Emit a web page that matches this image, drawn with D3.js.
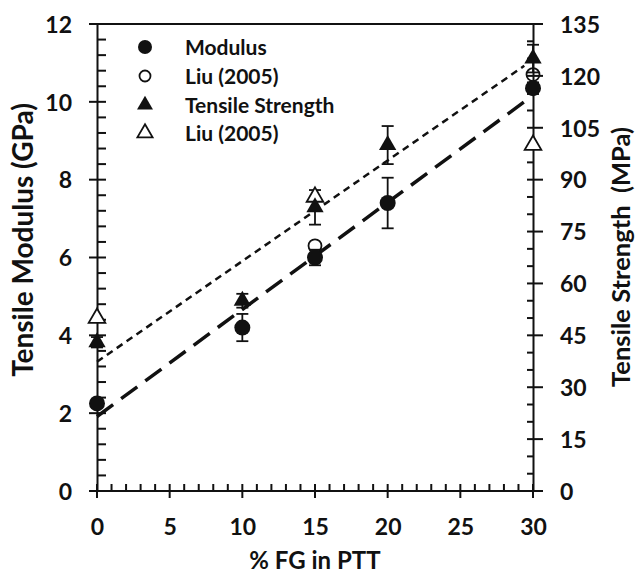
<!DOCTYPE html>
<html><head><meta charset="utf-8">
<script src="https://cdn.jsdelivr.net/npm/d3@7"></script>
<style>
html,body{margin:0;padding:0;background:#fff;}
text{font-family:Lato,"Open Sans",sans-serif;font-weight:700;fill:#111;}
</style></head>
<body>
<svg id="chart" width="637" height="575"></svg>
<script>
// ---- data ----
const fgPct = [0, 10, 15, 20, 30];
const modulus = [2.25, 4.2, 6.0, 7.4, 10.35];
const modulusErr = [0.1, 0.35, 0.2, 0.65, 0.15];
const liuModX = [15, 30];
const liuMod = [6.3, 10.7];
const strength = [43, 55, 82, 100, 125];
const strengthErr = [1.5, 2, 5, 5.5, 4];
const liuStrX = [0, 15, 30];
const liuStr = [50, 85, 100];
const xTicks = [0, 5, 10, 15, 20, 25, 30];
const yLeftTicks = [0, 2, 4, 6, 8, 10, 12];
const yRightTicks = [0, 15, 30, 45, 60, 75, 90, 105, 120, 135];
const legendLabels = ["Modulus", "Liu (2005)", "Tensile Strength", "Liu (2005)"];

const svg = d3.select("#chart");
const x = d3.scaleLinear().domain([0, 30]).range([97, 533]);
const yL = d3.scaleLinear().domain([0, 12]).range([491, 24]);
const yR = d3.scaleLinear().domain([0, 135]).range([491, 24]);

const axisW = 2;
const tickFont = "23px";
// top border
svg.append("line").attr("x1", 89).attr("x2", 543).attr("y1", yL(12)).attr("y2", yL(12))
  .attr("stroke", "#111").attr("stroke-width", axisW);

// left axis
const gL = svg.append("g").attr("transform", `translate(${x(0)},0)`);
gL.call(d3.axisLeft(yL).tickValues(yLeftTicks).tickSize(0).tickPadding(25));
gL.select(".domain").attr("stroke", "#111").attr("stroke-width", axisW);
gL.selectAll(".tick text").style("font-size", tickFont).attr("dy", "0.36em");
d3.range(0, 12.01, 0.4).forEach(v => {
  const major = Math.abs(v / 2 - Math.round(v / 2)) < 1e-6;
  gL.append("line").attr("x1", major ? -8 : 0).attr("x2", 9)
    .attr("y1", yL(v)).attr("y2", yL(v)).attr("stroke", "#111").attr("stroke-width", axisW);
});

// bottom axis
const gB = svg.append("g").attr("transform", `translate(0,${yL(0)})`);
gB.call(d3.axisBottom(x).tickValues(xTicks).tickSize(0));
gB.select(".domain").remove();
gB.append("line").attr("x1", 89).attr("x2", 543).attr("stroke", "#111").attr("stroke-width", axisW);
gB.selectAll(".tick text").style("font-size", tickFont).attr("y", 44).attr("dy", 0);
d3.range(0, 30.01, 1).forEach(v => {
  const major = v % 5 === 0;
  gB.append("line").attr("x1", x(v)).attr("x2", x(v)).attr("y1", -7).attr("y2", major ? 7 : 0)
    .attr("stroke", "#111").attr("stroke-width", axisW);
});

// right axis
const gR = svg.append("g").attr("transform", `translate(${x(30)},0)`);
gR.call(d3.axisRight(yR).tickValues(yRightTicks).tickSize(0).tickPadding(27));
gR.select(".domain").attr("stroke", "#111").attr("stroke-width", axisW);
gR.selectAll(".tick text").style("font-size", tickFont).attr("dy", "0.36em");
d3.range(0, 135.01, 5).forEach(v => {
  const major = v % 15 === 0;
  gR.append("line").attr("x1", -6).attr("x2", major ? 10 : 0)
    .attr("y1", yR(v)).attr("y2", yR(v)).attr("stroke", "#111").attr("stroke-width", axisW);
});

// axis titles
svg.append("text").attr("transform", `translate(33,240) rotate(-90)`)
  .attr("text-anchor", "middle").style("font-size", "28px").text("Tensile Modulus (GPa)");
svg.append("text").attr("transform", `translate(630,257) rotate(-90)`)
  .attr("text-anchor", "middle").style("font-size", "25.5px")
  .text("Tensile Strength\u00a0 (MPa)");
svg.append("text").attr("x", 315).attr("y", 569).attr("text-anchor", "middle")
  .style("font-size", "24px").text("% FG in PTT");

// trend lines (least squares fit)
function fit(xs, ys) {
  const mx = d3.mean(xs), my = d3.mean(ys);
  let sxy = 0, sxx = 0;
  xs.forEach((xi, i) => { sxy += (xi - mx) * (ys[i] - my); sxx += (xi - mx) ** 2; });
  const b = sxy / sxx;
  return { a: my - b * mx, b };
}
const fm = fit(fgPct, modulus);
const fs = fit(fgPct, strength);
svg.append("line").attr("x1", x(0)).attr("x2", x(29.4))
  .attr("y1", yL(fm.a)).attr("y2", yL(fm.a + fm.b * 29.4))
  .attr("stroke", "#111").attr("stroke-width", 3.5).attr("stroke-dasharray", "20,10");
svg.append("line").attr("x1", x(0)).attr("x2", x(29.4))
  .attr("y1", yR(fs.a)).attr("y2", yR(fs.a + fs.b * 29.4))
  .attr("stroke", "#111").attr("stroke-width", 2.5).attr("stroke-dasharray", "7,5");

// error bars
function errBars(ys, errs, scale) {
  fgPct.forEach((xi, i) => {
    const g = svg.append("g").attr("stroke", "#111").attr("stroke-width", 1.8);
    const cx = x(xi), t = scale(ys[i] + errs[i]), b = scale(ys[i] - errs[i]);
    g.append("line").attr("x1", cx).attr("x2", cx).attr("y1", t).attr("y2", b);
    g.append("line").attr("x1", cx - 6).attr("x2", cx + 6).attr("y1", t).attr("y2", t);
    g.append("line").attr("x1", cx - 6).attr("x2", cx + 6).attr("y1", b).attr("y2", b);
  });
}
errBars(modulus, modulusErr, yL);
errBars(strength, strengthErr, yR);

const tri = d3.symbol().type(d3.symbolTriangle);
// Liu open markers
svg.selectAll(".liuM").data(liuModX).join("circle")
  .attr("cx", d => x(d)).attr("cy", (d, i) => yL(liuMod[i])).attr("r", 6.5)
  .attr("fill", "none").attr("stroke", "#111").attr("stroke-width", 1.8);
svg.selectAll(".liuS").data(liuStrX).join("path")
  .attr("transform", (d, i) => `translate(${x(d)},${yR(liuStr[i])})`)
  .attr("d", tri.size(120)()).attr("fill", "#fff").attr("stroke", "#111").attr("stroke-width", 1.8);
// filled markers
svg.selectAll(".mod").data(fgPct).join("circle")
  .attr("cx", d => x(d)).attr("cy", (d, i) => yL(modulus[i])).attr("r", 8)
  .attr("fill", "#111");
svg.selectAll(".str").data(fgPct).join("path")
  .attr("transform", (d, i) => `translate(${x(d)},${yR(strength[i])})`)
  .attr("d", tri.size(130)()).attr("fill", "#111");

// legend
const legY = [47, 76, 105, 133];
const lg = svg.append("g");
lg.append("circle").attr("cx", 145).attr("cy", legY[0]).attr("r", 7).attr("fill", "#111");
lg.append("circle").attr("cx", 145).attr("cy", legY[1]).attr("r", 5.5).attr("fill", "none")
  .attr("stroke", "#111").attr("stroke-width", 1.8);
lg.append("path").attr("transform", `translate(145,${legY[2]})`).attr("d", tri.size(110)()).attr("fill", "#111");
lg.append("path").attr("transform", `translate(145,${legY[3]})`).attr("d", tri.size(100)())
  .attr("fill", "none").attr("stroke", "#111").attr("stroke-width", 1.8);
legendLabels.forEach((t, i) => {
  lg.append("text").attr("x", 185).attr("y", legY[i]).attr("dy", "0.36em")
    .style("font-size", "21px").text(t);
});
</script>
</body></html>
